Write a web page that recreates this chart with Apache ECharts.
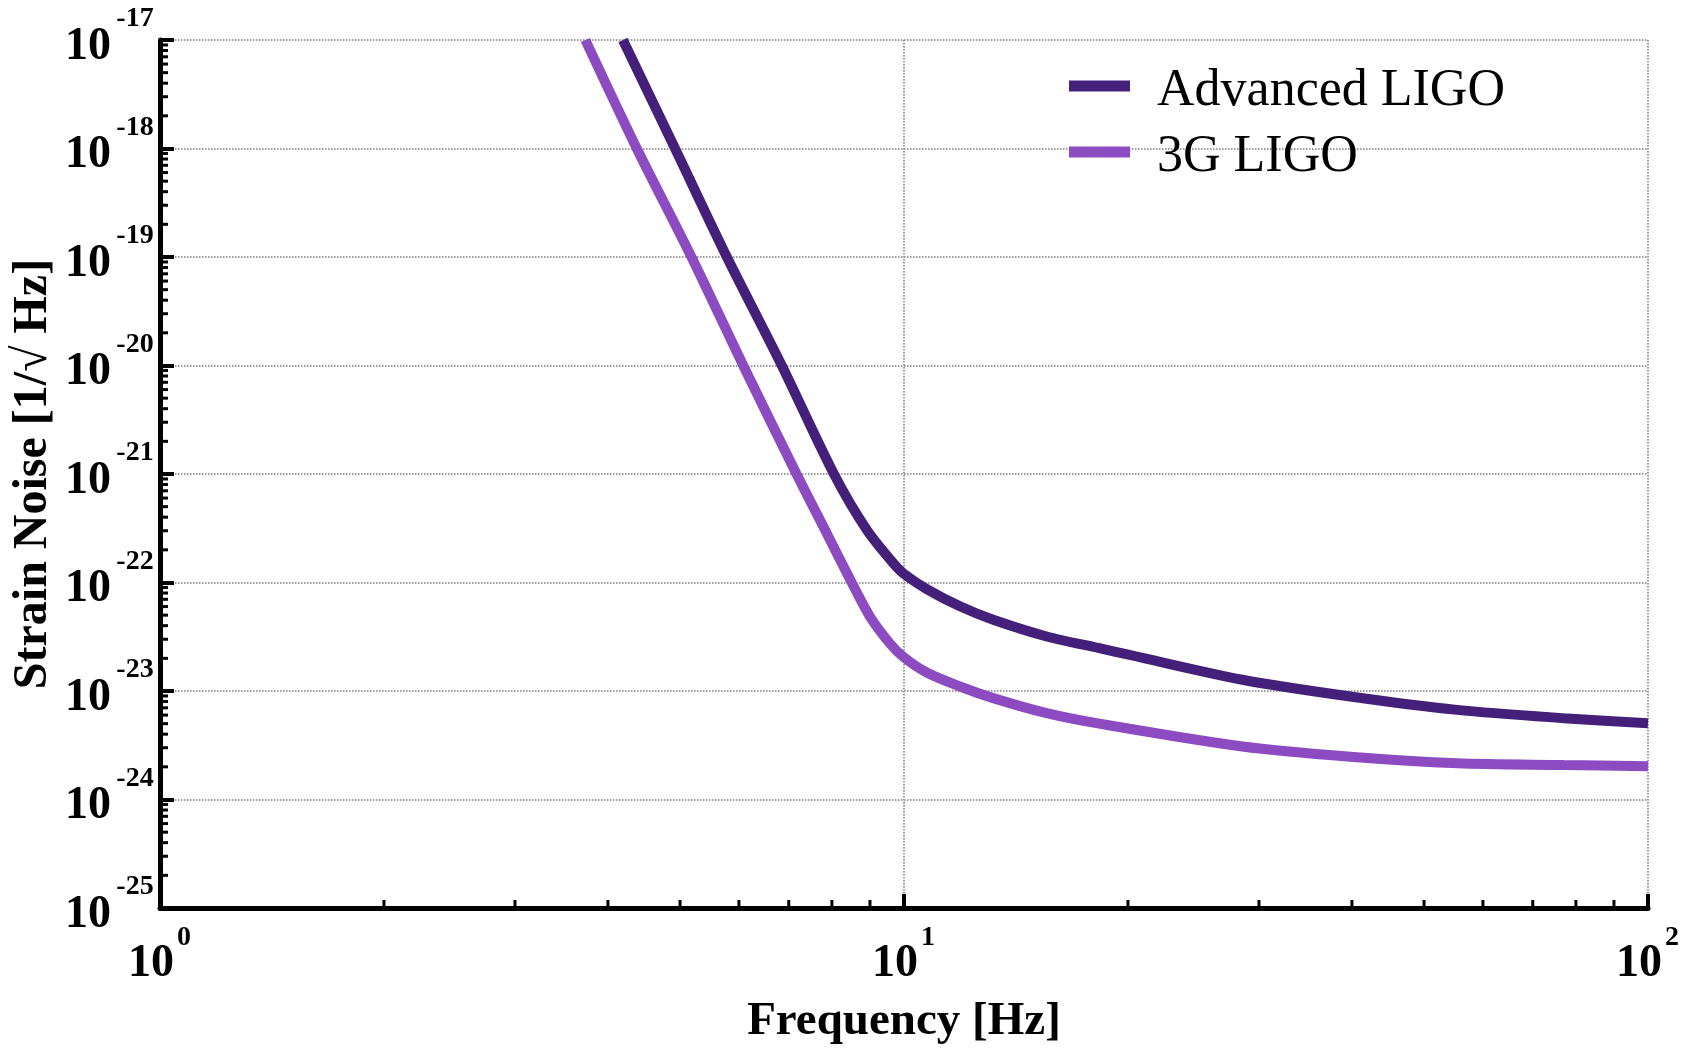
<!DOCTYPE html>
<html><head><meta charset="utf-8">
<script src="https://cdn.jsdelivr.net/npm/echarts@6/dist/echarts.min.js"></script>
<style>html,body{margin:0;padding:0;background:#fff}#c{width:1688px;height:1049px}</style>
</head><body><div id="c"></div>
<script>
const seriesNames = ['Advanced LIGO', '3G LIGO'];
const aligoFreq   = [4.19, 4.93, 5.78, 6.85, 8.05, 8.91, 9.67, 10.0, 10.73, 11.89, 13.18, 15.55, 18.3, 20.1, 28.5, 39.8, 55.4, 77, 100];
const aligoStrain = [1e-17, 9.8e-19, 1e-19, 1e-20, 1e-21, 3.06e-22, 1.51e-22, 1.2e-22, 8.7e-23, 6.03e-23, 4.53e-23, 3.18e-23, 2.48e-23, 2.15e-23, 1.27e-23, 8.9e-24, 6.7e-24, 5.62e-24, 5.05e-24];
const g3Freq      = [3.73, 4.38, 5.18, 6.08, 7.17, 7.83, 8.505, 9.0, 9.57, 10.0, 10.73, 11.89, 13.18, 15.55, 18.3, 28.5, 39.8, 55.4, 77, 100];
const g3Strain    = [1e-17, 9.8e-19, 1e-19, 1e-20, 1e-21, 3.06e-22, 1e-22, 4.85e-23, 2.75e-23, 2.04e-23, 1.48e-23, 1.1e-23, 8.6e-24, 6.25e-24, 5.0e-24, 3.08e-24, 2.48e-24, 2.16e-24, 2.08e-24, 2.03e-24];
const xRange = [1, 100];
const yRange = [1e-25, 1e-17];
const xTickValues = [1, 10, 100];
const yTickValues = [1e-25, 1e-24, 1e-23, 1e-22, 1e-21, 1e-20, 1e-19, 1e-18, 1e-17];
const minorMultipliers = [2, 3, 4, 5, 6, 7, 8, 9];
const colors = ['#44207a', '#8c4bc0'];

const minorData = [];
xTickValues.slice(0, -1).forEach(d => minorMultipliers.forEach(m => minorData.push([d * m, yRange[0], 0])));
yTickValues.slice(0, -1).forEach(d => minorMultipliers.forEach(m => minorData.push([xRange[0], d * m, 1])));

const pow = v => Math.round(Math.log10(v));
const serif = 'Liberation Serif';
const bold = {fontFamily: serif, fontWeight: 'bold', color: '#000'};

const chart = echarts.init(document.getElementById('c'), null, {renderer: 'canvas'});
chart.setOption({
  animation: false,
  backgroundColor: '#fff',
  grid: {left: 160, top: 40, right: 40, bottom: 141, containLabel: false, outerBoundsMode: 'none'},
  legend: {
    data: seriesNames,
    orient: 'vertical',
    left: 1069, top: 53,
    padding: 0,
    itemGap: 2,
    itemWidth: 61, itemHeight: 11,
    icon: 'rect',
    formatter: n => '{g| }\n{t|' + n + '}',
    textStyle: {
      fontFamily: serif, fontSize: 52, color: '#000', padding: [0, 0, 0, 22],
      rich: {
        g: {fontSize: 10, lineHeight: 10},
        t: {fontFamily: serif, fontSize: 52, lineHeight: 56, color: '#000'}
      }
    }
  },
  xAxis: {
    type: 'log', logBase: 10, min: xRange[0], max: xRange[1], interval: 1, splitNumber: 2,
    name: 'Frequency [Hz]', nameLocation: 'middle', nameGap: 90, nameMoveOverlap: false,
    nameTextStyle: Object.assign({fontSize: 47}, bold),
    axisLine: {show: true, onZero: false, lineStyle: {color: '#000', width: 5}},
    axisTick: {show: true, inside: true, length: 14, lineStyle: {color: '#000', width: 4}},
    minorTick: {show: false},
    splitLine: {show: true, lineStyle: {color: '#9a9a9a', width: 2, type: [1.5, 1.5]}},
    axisLabel: {
      margin: 29, showMinLabel: true, showMaxLabel: true, hideOverlap: false,
      fontSize: 12, lineHeight: 2,
      formatter: v => '{e| }{s|' + pow(v) + '}\n{b|10}{f| }',
      rich: {
        e: {width: 48, lineHeight: 2, fontSize: 2},
        s: Object.assign({fontSize: 28, lineHeight: 2, width: 16, align: 'left'}, bold),
        b: Object.assign({fontSize: 46, lineHeight: 50, width: 46, align: 'left'}, bold),
        f: {width: 18, lineHeight: 50, fontSize: 12}
      }
    }
  },
  yAxis: {
    type: 'log', logBase: 10, min: yRange[0], max: yRange[1], interval: 1, splitNumber: 8,
    name: 'Strain Noise [1/\u221A Hz]', nameLocation: 'middle', nameGap: 102, nameRotate: 90, nameMoveOverlap: false,
    nameTextStyle: Object.assign({fontSize: 48}, bold),
    axisLine: {show: true, onZero: false, lineStyle: {color: '#000', width: 5}},
    axisTick: {show: true, inside: true, length: 14, customValues: yTickValues, lineStyle: {color: '#000', width: 4}},
    minorTick: {show: false},
    splitLine: {show: true, lineStyle: {color: '#9a9a9a', width: 2, type: [1.5, 1.5]}},
    axisLabel: {
      margin: 5, showMinLabel: true, showMaxLabel: true, hideOverlap: false,
      customValues: yTickValues,
      fontSize: 12, lineHeight: 14,
      formatter: v => '{e| }{s|' + pow(v) + '}\n{b|10}{f| }',
      rich: {
        e: {width: 50, lineHeight: 14, fontSize: 12},
        s: Object.assign({fontSize: 28, lineHeight: 14, width: 40, align: 'left'}, bold),
        b: Object.assign({fontSize: 46, lineHeight: 42, width: 46, align: 'left'}, bold),
        f: {width: 44, lineHeight: 42, fontSize: 12}
      }
    }
  },
  series: [
    {
      name: seriesNames[0], type: 'line', showSymbol: false, smooth: 0.3, clip: true,
      data: aligoFreq.map((f, i) => [f, aligoStrain[i]]),
      lineStyle: {color: colors[0], width: 10}, itemStyle: {color: colors[0]}, z: 3
    },
    {
      name: seriesNames[1], type: 'line', showSymbol: false, smooth: 0.3, clip: true,
      data: g3Freq.map((f, i) => [f, g3Strain[i]]),
      lineStyle: {color: colors[1], width: 10}, itemStyle: {color: colors[1]}, z: 3
    },
    {
      name: 'minor', type: 'custom', silent: true, clip: false, z: 5,
      encode: {x: 0, y: 1},
      data: minorData,
      renderItem: (params, api) => {
        const p = api.coord([api.value(0), api.value(1)]);
        const vertical = api.value(2) === 0;
        return {
          type: 'line',
          shape: vertical ? {x1: p[0], y1: p[1], x2: p[0], y2: p[1] - 8} : {x1: p[0], y1: p[1], x2: p[0] + 8, y2: p[1]},
          style: {stroke: '#000', lineWidth: 3}
        };
      }
    }
  ]
});
</script></body></html>
